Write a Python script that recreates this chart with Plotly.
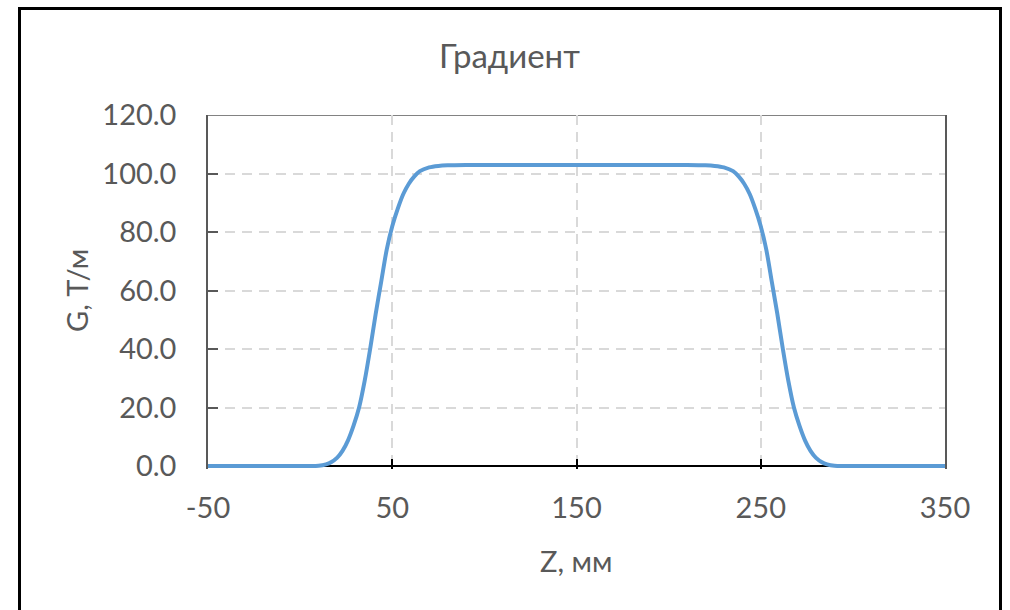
import plotly.graph_objects as go

# Data
z_mm = [-50, -25, 0, 5, 10, 14, 17, 20, 23, 26, 29, 32, 35, 38, 41, 44, 47, 50, 53, 56, 59,
        62, 65, 70, 75, 80, 90, 120, 150, 180, 210,
        220, 225, 230, 235, 238, 241, 244, 247, 250, 253, 256, 259, 262, 265, 268, 271,
        274, 277, 280, 283, 286, 290, 295, 300, 325, 350]
g_tm = [0, 0, 0, 0, 0.1, 0.6, 1.4, 2.8, 5.2, 8.8, 13.8, 20, 29, 40, 52, 63, 74, 82, 88, 93, 96.5,
        99, 100.8, 102.1, 102.6, 102.8, 102.9, 102.9, 102.9, 102.9, 102.9,
        102.8, 102.6, 102.1, 100.8, 99, 96.5, 93, 88, 82, 74, 63, 52, 40, 29, 20, 13.8,
        8.8, 5.2, 2.8, 1.4, 0.6, 0.1, 0, 0, 0, 0]

x_ticks = [-50, 50, 150, 250, 350]
y_ticks = [0, 20, 40, 60, 80, 100, 120]

title_text = "Градиент"
x_title = "Z, мм"
y_title = "G, Т/м"

FONT = "Lato, 'Open Sans', sans-serif"
TXT = "#595959"
FS = 29

fig = go.Figure()
fig.add_trace(go.Scatter(
    x=z_mm, y=g_tm, mode="lines",
    line=dict(color="#5B9BD5", width=4, shape="spline", smoothing=0.8),
    showlegend=False, hoverinfo="x+y",
))

# plot area: left 208, right 945, y=120 at 115 px, y=0 at 466 px (range extended to -1)
W, H = 1010, 610
L, R, T = 208, 945, 115
B = 469
pw = R - L
ph = B - T

def px_x(p):
    return (p - L) / pw

def px_y(p):
    return (B - p) / ph

fig.update_layout(
    width=W, height=H,
    margin=dict(l=L, r=W - R, t=T, b=H - B, pad=0),
    paper_bgcolor="white", plot_bgcolor="white",
    font=dict(family=FONT, size=FS, color=TXT),
    xaxis=dict(
        range=[-50, 350], tickmode="array", tickvals=x_ticks,
        ticktext=[str(v) for v in x_ticks],
        showgrid=True, gridcolor="#D9D9D9", gridwidth=1.5, griddash="10px,7px",
        showline=False, zeroline=False,
        ticks="inside", ticklen=10, tickwidth=1.5, tickcolor="black",
        ticklabelstandoff=19,
        tickfont=dict(family=FONT, size=FS, color=TXT),
        layer="below traces", fixedrange=True,
    ),
    yaxis=dict(
        range=[-1.0, 120], tickmode="array", tickvals=y_ticks,
        ticktext=[f"{v:.1f}" for v in y_ticks],
        showgrid=True, gridcolor="#D9D9D9", gridwidth=1.5, griddash="10px,7px",
        showline=True, mirror=True, linecolor="#595959", linewidth=1.5,
        zeroline=True, zerolinecolor="black", zerolinewidth=1.5,
        ticks="inside", ticklen=10, tickwidth=1.5, tickcolor="#595959",
        ticklabelstandoff=24,
        tickfont=dict(family=FONT, size=FS, color=TXT),
        layer="below traces", fixedrange=True,
    ),
    shapes=[
        # top border of plot area
        dict(type="line", xref="paper", yref="y", x0=0, x1=1, y0=120, y1=120,
             line=dict(color="#595959", width=1.5), layer="below"),
        # outer chart frame
        dict(type="rect", xref="paper", yref="paper",
             x0=px_x(19.5), x1=px_x(1000.5), y0=px_y(640), y1=px_y(8.5),
             line=dict(color="black", width=3), fillcolor="rgba(0,0,0,0)", layer="above"),
    ],
    annotations=[
        dict(text=title_text, xref="paper", yref="paper", x=px_x(509.5), y=px_y(55),
             xanchor="center", yanchor="middle", showarrow=False,
             font=dict(family=FONT, size=33, color=TXT)),
        dict(text=x_title, xref="paper", yref="paper", x=px_x(576), y=px_y(560),
             xanchor="center", yanchor="middle", showarrow=False,
             font=dict(family=FONT, size=FS, color=TXT)),
        dict(text=y_title, xref="paper", yref="paper", x=px_x(76), y=px_y(291),
             xanchor="center", yanchor="middle", showarrow=False, textangle=-90,
             font=dict(family=FONT, size=FS, color=TXT)),
    ],
)

fig.write_html("out.html", config={"displayModeBar": False},
               post_script="document.body.style.margin='0px';")
